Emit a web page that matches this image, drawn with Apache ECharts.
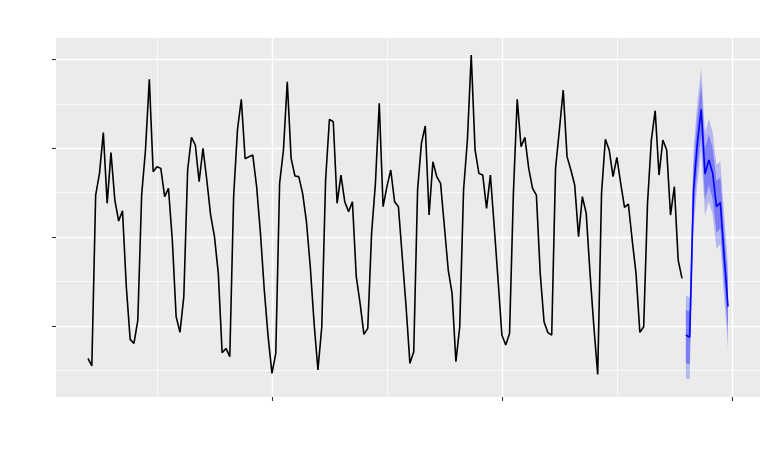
<!DOCTYPE html>
<html><head><meta charset="utf-8">
<script src="https://cdn.jsdelivr.net/npm/echarts@6/dist/echarts.min.js"></script>
<style>html,body{margin:0;padding:0;background:#fff}#c{width:768px;height:450px}</style>
</head><body><div id="c"></div>
<script>
// ---- data ----
const histStart = 12;
const histValues = [
  63.6, 55.0, 247.3, 271.7, 317.5, 238.0, 295.0, 241.7, 218.1, 229.7, 144.2, 85.0,
  80.5, 106.7, 247.3, 298.0, 377.5, 273.6, 279.2, 277.3, 245.5, 254.8, 196.7, 110.5,
  92.8, 133.0, 275.5, 312.2, 303.6, 262.3, 299.8, 264.2, 224.8, 200.5, 159.2, 69.9,
  74.8, 65.5, 245.5, 320.5, 355.0, 288.2, 290.5, 292.3, 256.7, 204.2, 140.5, 88.0,
  46.7, 69.2, 260.5, 298.0, 374.8, 288.6, 268.7, 268.0, 249.2, 217.3, 166.7, 103.0,
  50.5, 99.2, 264.2, 332.5, 329.8, 238.0, 269.8, 239.8, 228.6, 239.8, 155.5, 125.5,
  90.6, 97.3, 204.2, 260.5, 350.5, 234.2, 256.7, 275.5, 239.8, 234.2, 177.9, 121.7,
  58.0, 71.1, 253.0, 305.5, 325.0, 224.8, 284.8, 268.0, 260.5, 211.7, 163.0, 136.7,
  59.8, 99.2, 253.0, 309.2, 404.8, 298.0, 271.7, 269.8, 232.3, 269.8, 211.7, 151.7,
  89.8, 78.6, 91.7, 249.2, 355.0, 301.7, 312.2, 277.3, 254.8, 247.3, 159.2, 104.8,
  92.5, 89.8, 277.3, 320.5, 365.5, 290.5, 275.5, 258.6, 200.5, 245.5, 226.7, 159.2,
  99.2, 45.6, 249.2, 310.0, 298.0, 268.0, 289.7, 260.5, 233.5, 237.2, 196.7, 159.2,
  92.8, 99.2, 238.0, 309.2, 342.2, 269.8, 309.2, 298.0, 224.8, 256.7, 174.2, 153.6
];
const fcStart = 168;
const fcMean = [89.9, 87.3, 253.0, 305.5, 343.8, 271.0, 286.8, 271.8, 234.3, 238.8, 178.0, 121.8];
const fcLo80 = [58, 57, 225, 277, 315, 242, 258, 243, 205, 210, 149, 93];
const fcHi80 = [118, 116, 281, 334, 372, 300, 315, 300, 263, 267, 207, 151];
const fcLo95 = [41, 40, 207, 259, 297, 224, 240, 225, 187, 192, 131, 75];
const fcHi95 = [134, 132, 299, 351, 390, 318, 333, 318, 281, 285, 225, 168];
const xMajorTicks = [60, 120, 180];
const xMinorTicks = [30, 90, 150];
const yMajorTicks = [100, 200, 300, 400];
const yMinorTicks = [50, 150, 250, 350];

// ---- build ----
const hist = histValues.map((v, i) => [histStart + i, v]);
const fcX = fcMean.map((v, i) => fcStart + i);
const fcLine = fcMean.map((v, i) => [fcX[i], v]);
const bandData = fcX.map((x, i) => [x, fcLo95[i], fcHi95[i], fcLo80[i], fcHi80[i]]);

function bandSeries(lo, hi, color, z) {
  return {
    type: 'custom', z: z, silent: true,
    data: bandData,
    encode: {x: 0, y: [1, 2]},
    renderItem: function (params, api) {
      if (params.dataIndex !== 0) return null;
      const pts = [];
      for (let i = 0; i < fcX.length; i++) pts.push(api.coord([fcX[i], hi[i]]));
      for (let i = fcX.length - 1; i >= 0; i--) pts.push(api.coord([fcX[i], lo[i]]));
      return {type: 'polygon', shape: {points: pts}, style: {fill: color, stroke: null}};
    }
  };
}

const gridLines = [];
xMinorTicks.forEach(v => gridLines.push({xAxis: v, lineStyle: {width: 0.7}}));
yMinorTicks.forEach(v => gridLines.push({yAxis: v, lineStyle: {width: 0.7}}));
xMajorTicks.forEach(v => gridLines.push({xAxis: v, lineStyle: {width: 1.4}}));
yMajorTicks.forEach(v => gridLines.push({yAxis: v, lineStyle: {width: 1.4}}));

const chart = echarts.init(document.getElementById('c'), null, {renderer: 'canvas'});
chart.setOption({
  animation: false,
  backgroundColor: '#ffffff',
  grid: {left: 56, right: 8, top: 38, bottom: 53, show: true, backgroundColor: '#EBEBEB', borderWidth: 0},
  xAxis: {
    type: 'value', min: 3.65, max: 187.35,
    axisLine: {show: false},
    axisTick: {show: true, length: 4, lineStyle: {color: '#333333', width: 1.1}, customValues: xMajorTicks},
    axisLabel: {show: false, customValues: xMajorTicks},
    splitLine: {show: false}
  },
  yAxis: {
    type: 'value', min: 20.14, max: 423.96,
    axisLine: {show: false},
    axisTick: {show: true, length: 4, lineStyle: {color: '#333333', width: 1.1}, customValues: yMajorTicks},
    axisLabel: {show: false, customValues: yMajorTicks},
    splitLine: {show: false}
  },
  series: [
    {
      type: 'line', data: hist, symbol: 'none', z: 3,
      lineStyle: {color: '#000000', width: 1.6},
      markLine: {
        silent: true, z: 1, symbol: ['none', 'none'], label: {show: false},
        lineStyle: {color: '#ffffff', type: 'solid', opacity: 1},
        emphasis: {disabled: true},
        data: gridLines
      }
    },
    bandSeries(fcLo95, fcHi95, 'rgba(0,0,255,0.22)', 3),
    bandSeries(fcLo80, fcHi80, 'rgba(0,0,255,0.32)', 4),
    {type: 'line', data: fcLine, symbol: 'none', z: 5, lineStyle: {color: '#0000FF', width: 1.6}}
  ]
});
</script></body></html>
